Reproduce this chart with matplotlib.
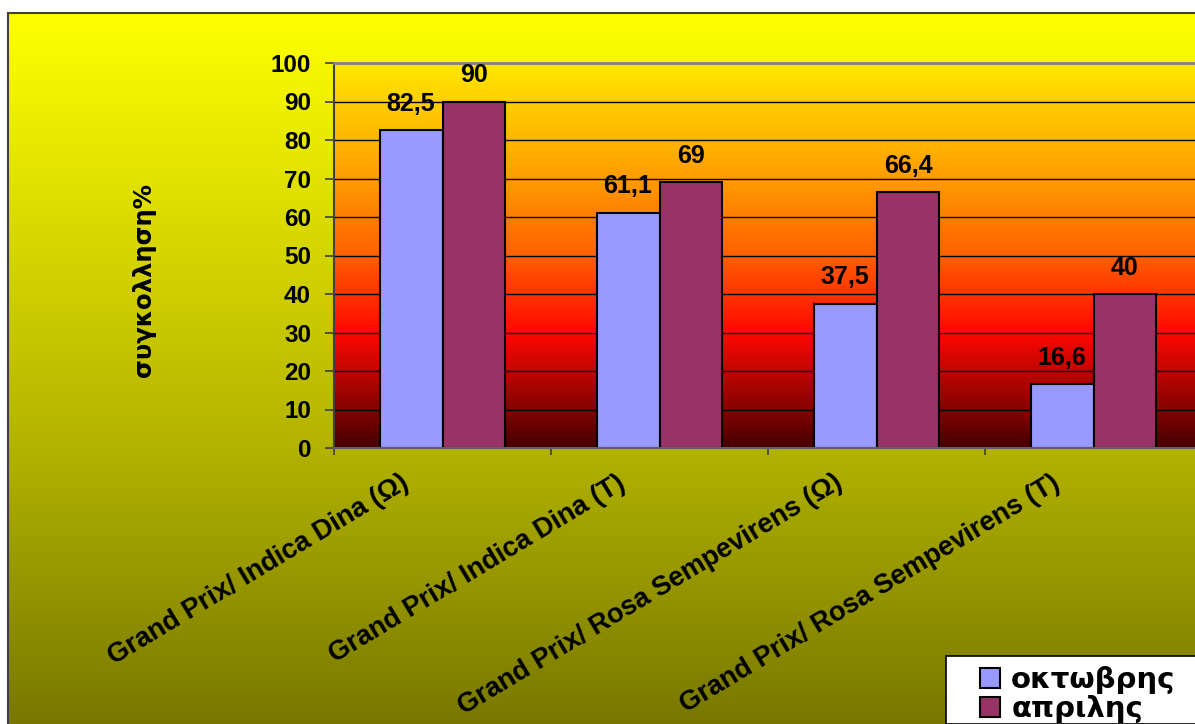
import numpy as np
import matplotlib
matplotlib.use("Agg")
import matplotlib.pyplot as plt
from matplotlib.colors import LinearSegmentedColormap
from matplotlib.patches import Patch, Rectangle
import matplotlib.transforms as mtransforms

categories = ["Grand Prix/ Indica Dina (Ω)", "Grand Prix/ Indica Dina (T)",
              "Grand Prix/ Rosa Sempevirens (Ω)", "Grand Prix/ Rosa Sempevirens (T)"]
series_names = ["οκτωβρης", "απριλης"]
october = [82.5, 61.1, 37.5, 16.6]
april = [90, 69, 66.4, 40]
oct_labels = ["82,5", "61,1", "37,5", "16,6"]
apr_labels = ["90", "69", "66,4", "40"]
yticks = list(range(0, 101, 10))

W, H = 1195, 724
fig = plt.figure(figsize=(W / 100, H / 100), dpi=100)
fig.patch.set_facecolor("white")

# background gradient area
bg = fig.add_axes([8 / W, 0, 1 - 8 / W, (H - 13) / H])
bg_cmap = LinearSegmentedColormap.from_list(
    "bg", [(0, "#787800"), (0.4, "#B4B400"), (1.0, "#FFFF00")])
grad = np.linspace(0, 1, 256).reshape(-1, 1)
bg.imshow(grad, aspect="auto", cmap=bg_cmap, origin="lower", extent=[0, 1, 0, 1])
bg.set_xlim(0, 1); bg.set_ylim(0, 1)
bg.set_xticks([]); bg.set_yticks([])
for s in ["right", "bottom"]:
    bg.spines[s].set_visible(False)
for s in ["left", "top"]:
    bg.spines[s].set_color("#404040")
    bg.spines[s].set_linewidth(1.5)

# main axes
left, right, top, bottom = 334, 1202, 63, 448
ax = fig.add_axes([left / W, (H - bottom) / H, (right - left) / W, (bottom - top) / H])
ax.set_xlim(-0.5, 3.5)
ax.set_ylim(0, 100)
pa_cmap = LinearSegmentedColormap.from_list(
    "pa", [(0, "#460000"), (0.3, "#FF0800"), (0.5, "#FF6000"),
           (0.7, "#FF9C00"), (1.0, "#FFE800")])
ax.imshow(grad, aspect="auto", cmap=pa_cmap, origin="lower",
          extent=[-0.5, 3.5, 0, 100], zorder=0)

for y in yticks[1:-1]:
    ax.axhline(y, color="black", lw=1, zorder=1)

x = np.arange(len(categories))
bw = 0.29
ax.bar(x - bw / 2, october, bw, color="#9999FF", edgecolor="black", lw=1.5, zorder=2)
ax.bar(x + bw / 2, april, bw, color="#993366", edgecolor="black", lw=1.5, zorder=2)

lab_font = dict(family="Liberation Sans", weight="bold", size=18)
for xi, v, t in zip(x - bw / 2, october, oct_labels):
    ax.annotate(t, (xi, v), xytext=(0, 14), textcoords="offset points",
                ha="center", va="baseline", **lab_font)
for xi, v, t in zip(x + bw / 2, april, apr_labels):
    ax.annotate(t, (xi, v), xytext=(0, 14), textcoords="offset points",
                ha="center", va="baseline", **lab_font)

tick_font = dict(family="Liberation Sans", weight="bold", size=17.5)
ax.set_yticks(yticks)
ax.set_yticklabels([str(v) for v in yticks], **tick_font)
ax.tick_params(axis="y", direction="out", length=6.5, width=1.2, color="#404040", pad=10)
ax.set_xticks([-0.5, 0.5, 1.5, 2.5])
ax.set_xticklabels([])
ax.tick_params(axis="x", direction="out", length=5, width=1.2, color="#404040")

ax.spines["right"].set_visible(False)
ax.spines["top"].set_color("#808080")
ax.spines["top"].set_linewidth(2)
ax.spines["left"].set_color("#404040")
ax.spines["left"].set_linewidth(1.5)
ax.spines["bottom"].set_color("#606060")
ax.spines["bottom"].set_linewidth(1.5)

trans = mtransforms.offset_copy(ax.get_xaxis_transform(), fig=fig, x=-36, y=-33, units="dots")
for xi, c in zip(x, categories):
    ax.text(xi, 0, c, transform=trans, rotation=31, rotation_mode="anchor",
            ha="right", va="center", family="Liberation Sans", weight="bold",
            size=19.5, clip_on=False)

fig.text(144 / W, 1 - 280 / H, "συγκολληση%", rotation=90, ha="center", va="center",
         family="DejaVu Sans", weight="bold", size=17.5)

# legend
fig.patches.append(Rectangle((946 / W, 0), 1, (H - 656) / H, transform=fig.transFigure,
                             facecolor="white", edgecolor="black", lw=1.2, zorder=5))
handles = [Patch(facecolor="#9999FF", edgecolor="black", lw=1.5),
           Patch(facecolor="#993366", edgecolor="black", lw=1.5)]
leg = fig.legend(handles, series_names, loc="upper left",
                 bbox_to_anchor=(980 / W, 1 - 666 / H), frameon=False,
                 prop=dict(family="DejaVu Sans", weight="bold", size=21),
                 handlelength=0.67, handleheight=0.67, handletextpad=0.4,
                 labelspacing=0.05, borderpad=0, borderaxespad=0)
leg.set_zorder(6)

fig.savefig("out.png", dpi=100)
